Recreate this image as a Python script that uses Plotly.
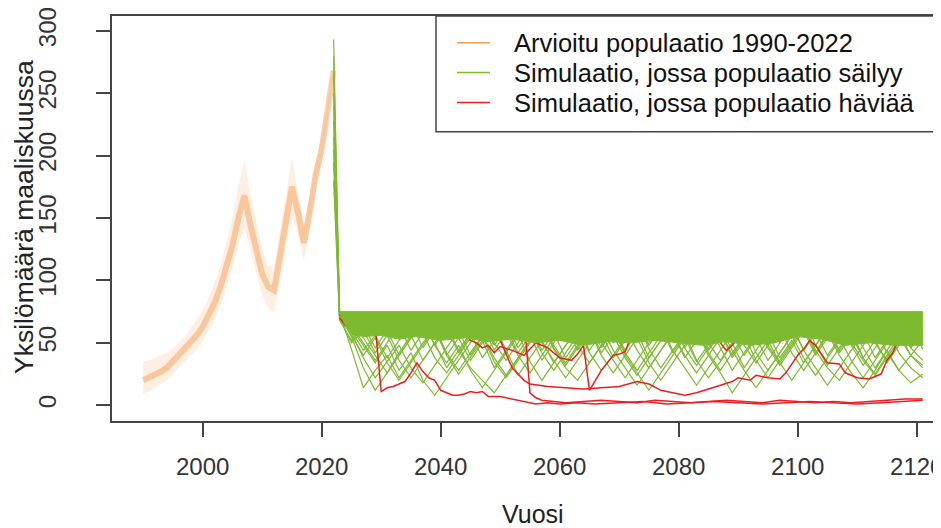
import plotly.graph_objects as go

# ---------------- data ----------------
ORANGE_YEARS = list(range(1990, 2023))
ORANGE_MID = [20, 22, 25, 27, 30, 35, 40, 45, 50, 56, 63, 72, 82, 95, 110, 128, 150, 168,
              145, 125, 105, 95, 92, 120, 148, 175, 155, 130, 155, 185, 205, 238, 268]
ORANGE_HIGH = [35, 36, 38, 40, 42, 46, 50, 55, 62, 68, 76, 86, 98, 112, 130, 150, 175, 196,
               170, 148, 125, 112, 110, 140, 168, 198, 170, 145, 168, 195, 215, 245, 272]
ORANGE_LOW = [9, 11, 14, 17, 20, 25, 30, 35, 40, 45, 51, 59, 68, 80, 94, 110, 130, 142,
              125, 105, 88, 78, 75, 100, 130, 150, 138, 115, 142, 175, 195, 230, 262]

GREEN_YEARS = [2022, 2023, 2025, 2027, 2029, 2031, 2033, 2035, 2037, 2039, 2041,
               2043, 2045, 2047, 2049, 2051, 2053, 2055, 2057, 2059, 2061,
               2063, 2065, 2067, 2069, 2071, 2073, 2075, 2077, 2079, 2081,
               2083, 2085, 2087, 2089, 2091, 2093, 2095, 2097, 2099, 2101,
               2103, 2105, 2107, 2109, 2111, 2113, 2115, 2117, 2119, 2121]
GREEN_SIMS = [
    [293, 74, 45, 14, 28, 40, 22, 36, 50, 62, 40, 25, 38, 52, 30, 44, 58, 35, 20, 34, 48,
     62, 42, 28, 40, 54, 68, 45, 30, 44, 58, 36, 22, 35, 50, 64, 42, 28, 42, 56, 70,
     48, 32, 46, 60, 38, 25, 40, 55, 40, 30],
    [265, 72, 58, 38, 22, 35, 48, 30, 18, 32, 46, 60, 40, 55, 35, 22, 36, 50, 64, 45, 30,
     20, 34, 48, 62, 40, 26, 12, 26, 40, 54, 35, 48, 62, 44, 28, 14, 28, 42, 56, 38,
     24, 38, 52, 66, 46, 30, 44, 28, 18, 25],
    [240, 73, 55, 30, 12, 26, 42, 56, 36, 50, 64, 44, 30, 20, 10, 24, 38, 52, 66, 48, 34,
     48, 62, 42, 56, 38, 24, 38, 52, 66, 46, 60, 40, 26, 10, 24, 38, 52, 34, 48, 62,
     42, 58, 40, 26, 14, 28, 44, 58, 40, 52],
    [215, 75, 62, 48, 34, 48, 28, 42, 20, 8, 22, 36, 50, 64, 44, 58, 40, 26, 40, 54, 68,
     48, 34, 48, 62, 44, 58, 38, 52, 66, 46, 32, 46, 60, 40, 54, 68, 48, 34, 20, 34,
     48, 62, 44, 58, 70, 50, 36, 50, 64, 45],
    [195, 70, 50, 60, 42, 56, 36, 22, 36, 50, 30, 44, 58, 38, 52, 66, 46, 60, 42, 28, 42,
     56, 70, 50, 36, 22, 36, 50, 64, 44, 30, 16, 30, 44, 58, 40, 54, 36, 50, 64, 44,
     58, 40, 54, 36, 22, 36, 50, 64, 46, 58],
    [180, 68, 52, 64, 46, 60, 40, 54, 68, 48, 62, 42, 56, 70, 50, 36, 50, 64, 44, 58, 38,
     52, 66, 46, 60, 42, 28, 42, 56, 70, 50, 64, 44, 58, 38, 52, 66, 46, 32, 46, 60,
     40, 54, 68, 48, 32, 46, 60, 42, 30, 22],
    [250, 75, 64, 50, 36, 50, 64, 44, 58, 38, 26, 40, 54, 68, 48, 62, 42, 56, 36, 50, 64,
     44, 58, 70, 50, 64, 44, 30, 44, 58, 38, 52, 66, 46, 28, 42, 56, 70, 50, 64, 44,
     30, 16, 30, 44, 58, 38, 52, 66, 46, 36],
    [228, 74, 60, 44, 56, 38, 52, 66, 46, 60, 40, 54, 36, 50, 64, 44, 24, 38, 52, 34, 48,
     62, 44, 58, 38, 52, 66, 48, 62, 42, 56, 70, 50, 36, 50, 30, 44, 58, 38, 52, 34,
     48, 62, 42, 56, 38, 52, 34, 48, 62, 48],
    [205, 71, 56, 40, 54, 34, 20, 34, 48, 62, 42, 28, 42, 56, 38, 24, 38, 52, 66, 46, 32,
     46, 60, 40, 26, 40, 54, 34, 20, 34, 48, 62, 42, 28, 42, 56, 36, 22, 36, 50, 64,
     44, 30, 20, 34, 48, 62, 42, 28, 40, 32],
    [280, 75, 66, 54, 40, 26, 40, 54, 68, 48, 34, 48, 28, 14, 28, 42, 56, 70, 50, 36, 22,
     36, 50, 64, 44, 30, 16, 30, 44, 58, 40, 26, 40, 54, 68, 48, 34, 48, 62, 42, 28,
     42, 56, 70, 50, 36, 24, 38, 52, 66, 50],
]

# dense (solid) part of the surviving simulations
DENSE_YEARS = [2023, 2024, 2025, 2027, 2030, 2033, 2036, 2040, 2044, 2048, 2052, 2056, 2060,
               2064, 2068, 2072, 2076, 2080, 2084, 2088, 2092, 2096, 2100, 2104, 2108, 2112,
               2116, 2121]
DENSE_LOW = [74, 64, 57, 55, 56, 53, 55, 52, 54, 51, 53, 50, 52, 48, 51, 50, 52, 50, 48, 51,
             48, 50, 55, 53, 48, 50, 48, 48]
DENSE_HIGH = [75] * len(DENSE_YEARS)

R1_YEARS = list(range(2023, 2057)) + [2058, 2060, 2063, 2066, 2070, 2074, 2078, 2082, 2086,
                                      2090, 2094, 2098, 2102, 2106, 2110, 2114, 2118, 2121]
R1_VALUES = [70, 64, 68, 61, 66, 59, 63, 11, 14, 15, 17, 19, 26, 34, 27, 22, 20, 12, 10, 8,
             8, 9, 11, 10, 11, 7, 7, 7, 6, 5, 4, 3, 2, 1,
             2, 1, 2, 1, 2, 3, 1, 2, 3, 2, 1, 2, 3, 2, 1, 2, 3, 4]
R2_YEARS = [2023, 2025, 2027, 2029, 2031, 2033, 2035, 2037, 2039, 2041, 2043, 2045, 2047,
            2049, 2051, 2053, 2054, 2055, 2056, 2057, 2059, 2061, 2064, 2067, 2070, 2073,
            2076, 2079, 2082, 2085, 2088, 2091, 2094, 2097, 2100, 2103, 2106, 2109, 2112,
            2115, 2118, 2121]
R2_VALUES = [73, 68, 72, 66, 70, 74, 69, 72, 67, 71, 74, 68, 72, 70, 73, 69, 73, 10, 6, 4,
             3, 2, 3, 4, 3, 2, 4, 3, 2, 3, 4, 3, 2, 4, 3, 2, 3, 2, 3, 4, 5, 5]
R3_YEARS = [2023, 2026, 2029, 2032, 2035, 2038, 2041, 2044, 2045, 2046, 2047, 2048, 2049,
            2050, 2052, 2054, 2056, 2058, 2060, 2062, 2063, 2064, 2065, 2066, 2067, 2068,
            2069, 2070, 2071, 2072, 2073, 2075, 2077, 2079, 2081, 2083, 2085, 2087, 2088,
            2089, 2091, 2094, 2097, 2100, 2103, 2106, 2109, 2112, 2115, 2118, 2121]
R3_VALUES = [74, 70, 72, 68, 71, 66, 70, 62, 52, 50, 46, 48, 42, 47, 44, 40, 50, 46, 38, 36,
             41, 48, 12, 20, 28, 34, 40, 41, 43, 55, 66, 70, 64, 60, 64, 58, 62, 50, 44, 48,
             60, 68, 72, 66, 70, 74, 68, 72, 67, 71, 69]
R4_YEARS = [2023, 2026, 2029, 2032, 2035, 2038, 2041, 2044, 2047, 2050, 2052, 2054, 2055,
            2058, 2061, 2064, 2067, 2070, 2073, 2075, 2077, 2079, 2081, 2083, 2085, 2087,
            2089, 2090, 2092, 2093, 2095, 2097, 2098, 2099, 2100, 2101, 2102, 2103, 2105,
            2107, 2108, 2110, 2112, 2114, 2115, 2116, 2117, 2118, 2119, 2121]
R4_VALUES = [72, 68, 71, 74, 69, 66, 70, 64, 58, 52, 30, 20, 17, 15, 14, 13, 14, 15, 19, 17,
             12, 10, 8, 10, 13, 16, 19, 22, 20, 24, 22, 21, 26, 33, 40, 45, 52, 48, 34, 33,
             26, 22, 21, 25, 36, 42, 55, 62, 68, 72]
RED_SIMS = [(R1_YEARS, R1_VALUES), (R2_YEARS, R2_VALUES), (R3_YEARS, R3_VALUES),
            (R4_YEARS, R4_VALUES)]

X_TICKS = [2000, 2020, 2040, 2060, 2080, 2100, 2120]
Y_TICKS = [0, 50, 100, 150, 200, 250, 300]
LEGEND_LABELS = ["Arvioitu populaatio 1990-2022",
                 "Simulaatio, jossa populaatio säilyy",
                 "Simulaatio, jossa populaatio häviää"]

# ---------------- styles ----------------
ORANGE = "#F7A04F"
GREEN = "#7DBA2F"
RED = "#F21C1C"
AXC = "#444444"
FONT = "Liberation Sans, Arial, sans-serif"

fig = go.Figure()

# orange estimated population: faint spread + denser core
fig.add_trace(go.Scatter(
    x=ORANGE_YEARS + ORANGE_YEARS[::-1], y=ORANGE_HIGH + ORANGE_LOW[::-1],
    fill="toself", fillcolor="rgba(250,180,125,0.22)", line=dict(width=0),
    mode="lines", hoverinfo="skip"))
fig.add_trace(go.Scatter(
    x=ORANGE_YEARS, y=ORANGE_MID, mode="lines",
    line=dict(color="rgba(246,150,70,0.45)", width=6), hoverinfo="skip"))

# green surviving simulations
for sim in GREEN_SIMS:
    fig.add_trace(go.Scatter(x=GREEN_YEARS, y=sim, mode="lines",
                             line=dict(color=GREEN, width=1.2), hoverinfo="skip"))

# red extinct simulations
for yrs, vals in RED_SIMS:
    fig.add_trace(go.Scatter(x=yrs, y=vals, mode="lines",
                             line=dict(color=RED, width=1.5), hoverinfo="skip"))

# dense green block
fig.add_trace(go.Scatter(
    x=DENSE_YEARS + DENSE_YEARS[::-1], y=DENSE_HIGH + DENSE_LOW[::-1],
    fill="toself", fillcolor=GREEN, line=dict(width=1, color=GREEN),
    mode="lines", hoverinfo="skip"))

# ---------------- layout ----------------
# the page puts the figure 8 px in from the top-left corner of the window
OFF = 8
W, H = 941 - OFF, 528 - OFF
PL, PT, PR, PB = 112, 16, 941, 421          # plot box in window pixels
L, T = PL - OFF, PT - OFF
R, B = (OFF + W) - PR, (OFF + H) - PB
PW, PH = W - L - R, H - T - B


def px(xs):
    return (xs - OFF - L) / PW


def py(ys):
    return (T + PH - (ys - OFF)) / PH


fig.update_layout(
    width=W, height=H, margin=dict(l=L, r=R, t=T, b=B, autoexpand=False),
    plot_bgcolor="white", paper_bgcolor="white", showlegend=False,
    font=dict(family=FONT, size=24, color="#333333"),
)
fig.update_xaxes(
    range=[1984.76, 2124.08], tickvals=X_TICKS, ticks="outside", ticklen=14, tickwidth=1.5,
    tickcolor=AXC, showline=True, linecolor=AXC, linewidth=1.5, mirror=True,
    showgrid=False, zeroline=False, ticklabelstandoff=9, ticklabeloverflow="allow",
    tickfont=dict(family=FONT, size=24, color="#333333"))
fig.update_yaxes(
    range=[-12.6, 311.8], tickvals=Y_TICKS, ticks="outside", ticklen=14, tickwidth=1.5,
    tickcolor=AXC, showline=True, linecolor=AXC, linewidth=1.5, mirror=False,
    showgrid=False, zeroline=False, tickangle=-90, ticklabelstandoff=31,
    ticklabeloverflow="allow",
    tickfont=dict(family=FONT, size=24, color="#333333"))

ann = [
    dict(text="Vuosi", x=px(533), y=py(514), xref="paper", yref="paper", showarrow=False,
         xanchor="center", yanchor="middle", font=dict(family=FONT, size=25, color="#222")),
    dict(text="Yksilömäärä maaliskuussa", x=px(24), y=py(217), xref="paper", yref="paper",
         showarrow=False, textangle=-90, xanchor="center", yanchor="middle",
         font=dict(family=FONT, size=26.5, color="#222")),
]
shapes = [dict(type="rect", xref="paper", yref="paper", x0=px(436), x1=px(960),
               y0=py(131.7), y1=py(16), line=dict(color=AXC, width=1.5),
               fillcolor="white", layer="above")]
leg_cols = [ORANGE, GREEN, RED]
leg_y = [42.7, 72.5, 102.5]
for lab, col, yy in zip(LEGEND_LABELS, leg_cols, leg_y):
    shapes.append(dict(type="line", xref="paper", yref="paper", x0=px(457), x1=px(490),
                       y0=py(yy), y1=py(yy), line=dict(color=col, width=1.5), layer="above"))
    ann.append(dict(text=lab, x=px(512), y=py(yy), xref="paper", yref="paper",
                    showarrow=False, xanchor="left", yanchor="middle",
                    font=dict(family=FONT, size=25.5, color="#111")))
fig.update_layout(annotations=ann, shapes=shapes)

fig.write_html("out.html")
